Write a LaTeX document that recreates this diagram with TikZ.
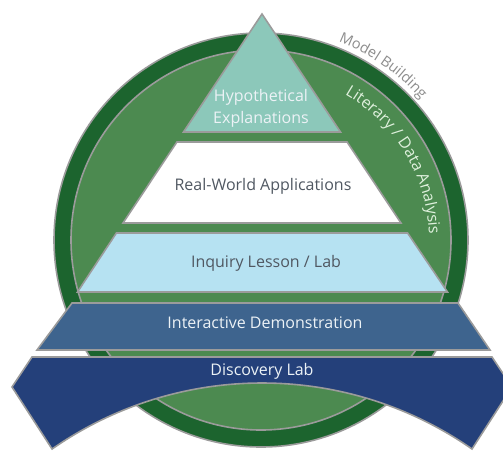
\documentclass[tikz,border=0pt]{standalone}
\usepackage{fontspec}
\setmainfont{Open Sans}
\usetikzlibrary{decorations.text,calc}
\definecolor{ringdark}{RGB}{28,100,46}
\definecolor{ringmid}{RGB}{76,138,80}
\definecolor{edgegray}{RGB}{155,155,155}
\definecolor{hypfill}{RGB}{140,200,186}
\definecolor{inqfill}{RGB}{182,226,242}
\definecolor{interfill}{RGB}{62,100,142}
\definecolor{discfill}{RGB}{36,64,122}
\definecolor{darktext}{RGB}{80,88,98}
\definecolor{lighttext}{RGB}{236,242,246}
\definecolor{littext}{RGB}{222,240,220}
\definecolor{modeltext}{RGB}{140,140,140}
\tikzset{
  piece/.style={draw=edgegray, line width=1.6pt, line join=miter},
  lbl/.style={font=\fontsize{16}{22}\selectfont, align=center, inner sep=0pt},
}
\begin{document}
\begin{tikzpicture}[x=1pt,y=1pt]
\useasboundingbox (0,0) rectangle (503,-451);
\clip (0,0) rectangle (503,-451);
\coordinate (C) at (261,-240);
% circle rings
\fill[ringdark, draw=edgegray, line width=1.6pt] (C) circle[radius=207];
\fill[ringmid, draw=edgegray, line width=1.6pt] (C) circle[radius=190];
% pyramid pieces
\filldraw[piece, fill=hypfill] (262,-14) -- (340.5,-132) -- (183.5,-132) -- cycle;
\filldraw[piece, fill=white] (176.9,-142) -- (347.1,-142) -- (401,-223) -- (123,-223) -- cycle;
\filldraw[piece, fill=inqfill] (116.4,-233) -- (407.6,-233) -- (447.5,-292) -- (77.5,-292) -- cycle;
% interactive band
\filldraw[piece, fill=interfill] (72,-303) -- (458,-303) -- (490,-350) -- (37,-350) -- cycle;
% discovery banner
\filldraw[piece, fill=discfill] (32,-357) -- (492,-357) -- (512,-387) -- (472,-449)
  arc[start angle=55.1, end angle=124.9, radius=367] -- (12,-387) -- cycle;
% labels
\node[lbl, text=lighttext] (hyp) at (261,-108) {Hypothetical\\Explanations};
\node[lbl, text=darktext] (real) at (263,-186) {Real-World Applications};
\node[lbl, text=darktext] (inq) at (266,-263) {Inquiry Lesson / Lab};
\node[lbl, text=lighttext] (inter) at (265,-323) {Interactive Demonstration};
\node[lbl, text=lighttext] (disc) at (262,-371) {Discovery Lab};
% curved labels
\path[decorate, decoration={text along path, text align=center,
  text={|\fontsize{16}{18}\selectfont\color{littext}|Literary / Data Analysis}}]
  ($(C)+(64:168)$) arc[start angle=64, end angle=-2, radius=168];
\path[decorate, decoration={text along path, text align=center,
  text={|\fontsize{14.5}{16}\selectfont\color{modeltext}|Model Building}}]
  ($(C)+(76:213)$) arc[start angle=76, end angle=34, radius=213];
\end{tikzpicture}
\end{document}
